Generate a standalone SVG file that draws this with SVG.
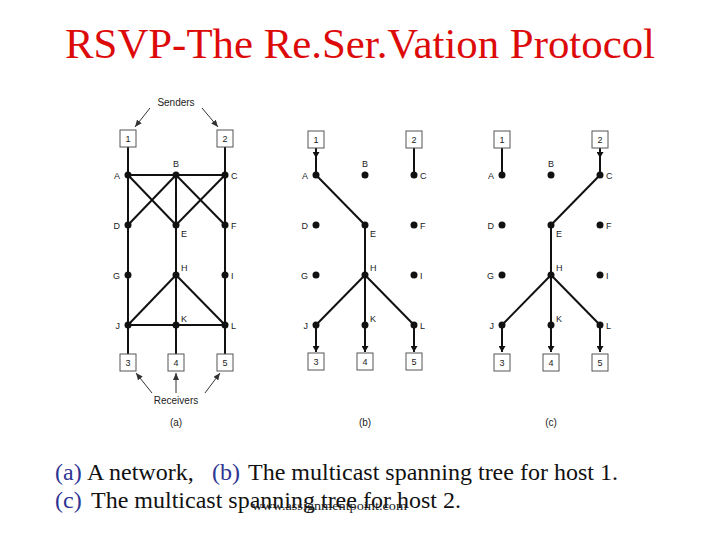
<svg xmlns="http://www.w3.org/2000/svg" width="720" height="540" viewBox="0 0 720 540">
<style>
.title{font-family:"Liberation Serif","Times New Roman",serif;font-size:43px;fill:#dd0a0a}
.cap{font-family:"Liberation Serif","Times New Roman",serif;font-size:24px;fill:#111}
.blue{fill:#2e3592}
.wm{font-family:"Liberation Serif","Times New Roman",serif;font-size:12px;fill:#222}
.lbl{font-family:"Liberation Sans",Arial,sans-serif;font-size:9px;fill:#222}
.big{font-family:"Liberation Sans",Arial,sans-serif;font-size:10px;fill:#222}
.box rect{fill:#fff;stroke:#555;stroke-width:1}
.box text{font-family:"Liberation Sans",Arial,sans-serif;font-size:9px;fill:#222;text-anchor:middle}
.dot{fill:#111}
.e line{stroke:#111;stroke-width:2}
.thin line{stroke:#333;stroke-width:1}
</style>
<defs>
<marker id="ah" markerUnits="userSpaceOnUse" markerWidth="6" markerHeight="7" refX="6" refY="3.5" orient="auto"><path d="M0,0 L6,3.5 L0,7 z" fill="#111"/></marker>
<marker id="at" markerUnits="userSpaceOnUse" markerWidth="7" markerHeight="6" refX="7" refY="3" orient="auto"><path d="M0,0 L7,3 L0,6 z" fill="#333"/></marker>
</defs>

<text class="title" x="65" y="58" textLength="590" lengthAdjust="spacingAndGlyphs">RSVP-The Re.Ser.Vation Protocol</text>

<!-- connectors -->
<g id="connectors">
<g class="e">
<!-- panel a -->
<line x1="128" y1="147" x2="128" y2="354"/>
<line x1="225" y1="147" x2="225" y2="354"/>
<line x1="176" y1="175" x2="176" y2="354"/>
<line x1="128" y1="175" x2="225" y2="175"/>
<line x1="128" y1="175" x2="176" y2="225"/>
<line x1="176" y1="175" x2="128" y2="225"/>
<line x1="176" y1="175" x2="225" y2="225"/>
<line x1="225" y1="175" x2="176" y2="225"/>
<line x1="176" y1="275" x2="128" y2="325"/>
<line x1="176" y1="275" x2="225" y2="325"/>
<line x1="128" y1="325" x2="225" y2="325"/>
<!-- panel b -->
<line x1="316" y1="148" x2="316" y2="158" marker-end="url(#ah)"/>
<line x1="316" y1="156" x2="316" y2="175"/>
<line x1="414" y1="148" x2="414" y2="175"/>
<line x1="316" y1="175" x2="365" y2="225"/>
<line x1="365" y1="225" x2="365" y2="275"/>
<line x1="365" y1="275" x2="316" y2="325"/>
<line x1="365" y1="275" x2="365" y2="325"/>
<line x1="365" y1="275" x2="414" y2="325"/>
<line x1="316" y1="325" x2="316" y2="352" marker-end="url(#ah)"/>
<line x1="365" y1="325" x2="365" y2="352" marker-end="url(#ah)"/>
<line x1="414" y1="325" x2="414" y2="352" marker-end="url(#ah)"/>
<!-- panel c -->
<line x1="502" y1="148" x2="502" y2="175"/>
<line x1="600" y1="148" x2="600" y2="158" marker-end="url(#ah)"/>
<line x1="600" y1="156" x2="600" y2="175"/>
<line x1="600" y1="175" x2="551" y2="225"/>
<line x1="551" y1="225" x2="551" y2="275"/>
<line x1="551" y1="275" x2="502" y2="325"/>
<line x1="551" y1="275" x2="551" y2="325"/>
<line x1="551" y1="275" x2="600" y2="325"/>
<line x1="502" y1="325" x2="502" y2="352" marker-end="url(#ah)"/>
<line x1="551" y1="325" x2="551" y2="352" marker-end="url(#ah)"/>
<line x1="600" y1="325" x2="600" y2="352" marker-end="url(#ah)"/>
</g>
<g class="thin">
<line x1="150" y1="108" x2="135" y2="127" marker-end="url(#at)"/>
<line x1="202" y1="108" x2="218" y2="127" marker-end="url(#at)"/>
<line x1="152" y1="393" x2="136" y2="373" marker-end="url(#at)"/>
<line x1="176" y1="393" x2="176" y2="373" marker-end="url(#at)"/>
<line x1="205" y1="393" x2="220" y2="373" marker-end="url(#at)"/>
</g>
</g>

<!-- panel labels -->
<text class="big" x="176" y="106" text-anchor="middle">Senders</text>
<text class="big" x="176" y="404" text-anchor="middle">Receivers</text>
<text class="big" x="176" y="426" text-anchor="middle">(a)</text>
<text class="big" x="365" y="426" text-anchor="middle">(b)</text>
<text class="big" x="551" y="426" text-anchor="middle">(c)</text>

<!-- panel a nodes -->
<g id="a-h1" class="box"><rect x="120" y="130" width="16" height="17"/><text x="128" y="141.5">1</text></g>
<g id="a-h2" class="box"><rect x="217" y="130" width="16" height="17"/><text x="225" y="141.5">2</text></g>
<g id="a-h3" class="box"><rect x="120" y="354" width="16" height="17"/><text x="128" y="365.5">3</text></g>
<g id="a-h4" class="box"><rect x="168" y="354" width="16" height="17"/><text x="176" y="365.5">4</text></g>
<g id="a-h5" class="box"><rect x="217" y="354" width="16" height="17"/><text x="225" y="365.5">5</text></g>
<g id="a-A"><circle class="dot" cx="128" cy="175" r="3.5"/><text class="lbl" x="120" y="178.5" text-anchor="end">A</text></g>
<g id="a-B"><circle class="dot" cx="176" cy="175" r="3.5"/><text class="lbl" x="176" y="167" text-anchor="middle">B</text></g>
<g id="a-C"><circle class="dot" cx="225" cy="175" r="3.5"/><text class="lbl" x="231" y="178.5">C</text></g>
<g id="a-D"><circle class="dot" cx="128" cy="225" r="3.5"/><text class="lbl" x="120" y="228.5" text-anchor="end">D</text></g>
<g id="a-E"><circle class="dot" cx="176" cy="225" r="3.5"/><text class="lbl" x="181" y="237">E</text></g>
<g id="a-F"><circle class="dot" cx="225" cy="225" r="3.5"/><text class="lbl" x="231" y="228.5">F</text></g>
<g id="a-G"><circle class="dot" cx="128" cy="275" r="3.5"/><text class="lbl" x="120" y="278.5" text-anchor="end">G</text></g>
<g id="a-H"><circle class="dot" cx="176" cy="275" r="3.5"/><text class="lbl" x="181" y="271">H</text></g>
<g id="a-I"><circle class="dot" cx="225" cy="275" r="3.5"/><text class="lbl" x="231" y="278.5">I</text></g>
<g id="a-J"><circle class="dot" cx="128" cy="325" r="3.5"/><text class="lbl" x="120" y="328.5" text-anchor="end">J</text></g>
<g id="a-K"><circle class="dot" cx="176" cy="325" r="3.5"/><text class="lbl" x="181" y="322">K</text></g>
<g id="a-L"><circle class="dot" cx="225" cy="325" r="3.5"/><text class="lbl" x="231" y="328.5">L</text></g>

<!-- panel b nodes -->
<g id="b-h1" class="box"><rect x="308" y="131" width="16" height="17"/><text x="316" y="142.5">1</text></g>
<g id="b-h2" class="box"><rect x="406" y="131" width="16" height="17"/><text x="414" y="142.5">2</text></g>
<g id="b-h3" class="box"><rect x="308" y="353" width="16" height="17"/><text x="316" y="364.5">3</text></g>
<g id="b-h4" class="box"><rect x="357" y="353" width="16" height="17"/><text x="365" y="364.5">4</text></g>
<g id="b-h5" class="box"><rect x="406" y="353" width="16" height="17"/><text x="414" y="364.5">5</text></g>
<g id="b-A"><circle class="dot" cx="316" cy="175" r="3.5"/><text class="lbl" x="308" y="178.5" text-anchor="end">A</text></g>
<g id="b-B"><circle class="dot" cx="365" cy="175" r="3.5"/><text class="lbl" x="365" y="167" text-anchor="middle">B</text></g>
<g id="b-C"><circle class="dot" cx="414" cy="175" r="3.5"/><text class="lbl" x="420" y="178.5">C</text></g>
<g id="b-D"><circle class="dot" cx="316" cy="225" r="3.5"/><text class="lbl" x="308" y="228.5" text-anchor="end">D</text></g>
<g id="b-E"><circle class="dot" cx="365" cy="225" r="3.5"/><text class="lbl" x="370" y="237">E</text></g>
<g id="b-F"><circle class="dot" cx="414" cy="225" r="3.5"/><text class="lbl" x="420" y="228.5">F</text></g>
<g id="b-G"><circle class="dot" cx="316" cy="275" r="3.5"/><text class="lbl" x="308" y="278.5" text-anchor="end">G</text></g>
<g id="b-H"><circle class="dot" cx="365" cy="275" r="3.5"/><text class="lbl" x="370" y="271">H</text></g>
<g id="b-I"><circle class="dot" cx="414" cy="275" r="3.5"/><text class="lbl" x="420" y="278.5">I</text></g>
<g id="b-J"><circle class="dot" cx="316" cy="325" r="3.5"/><text class="lbl" x="308" y="328.5" text-anchor="end">J</text></g>
<g id="b-K"><circle class="dot" cx="365" cy="325" r="3.5"/><text class="lbl" x="370" y="322">K</text></g>
<g id="b-L"><circle class="dot" cx="414" cy="325" r="3.5"/><text class="lbl" x="420" y="328.5">L</text></g>

<!-- panel c nodes -->
<g id="c-h1" class="box"><rect x="494" y="131" width="16" height="17"/><text x="502" y="142.5">1</text></g>
<g id="c-h2" class="box"><rect x="592" y="131" width="16" height="17"/><text x="600" y="142.5">2</text></g>
<g id="c-h3" class="box"><rect x="494" y="354" width="16" height="17"/><text x="502" y="365.5">3</text></g>
<g id="c-h4" class="box"><rect x="543" y="354" width="16" height="17"/><text x="551" y="365.5">4</text></g>
<g id="c-h5" class="box"><rect x="592" y="354" width="16" height="17"/><text x="600" y="365.5">5</text></g>
<g id="c-A"><circle class="dot" cx="502" cy="175" r="3.5"/><text class="lbl" x="494" y="178.5" text-anchor="end">A</text></g>
<g id="c-B"><circle class="dot" cx="551" cy="175" r="3.5"/><text class="lbl" x="551" y="167" text-anchor="middle">B</text></g>
<g id="c-C"><circle class="dot" cx="600" cy="175" r="3.5"/><text class="lbl" x="606" y="178.5">C</text></g>
<g id="c-D"><circle class="dot" cx="502" cy="225" r="3.5"/><text class="lbl" x="494" y="228.5" text-anchor="end">D</text></g>
<g id="c-E"><circle class="dot" cx="551" cy="225" r="3.5"/><text class="lbl" x="556" y="237">E</text></g>
<g id="c-F"><circle class="dot" cx="600" cy="225" r="3.5"/><text class="lbl" x="606" y="228.5">F</text></g>
<g id="c-G"><circle class="dot" cx="502" cy="275" r="3.5"/><text class="lbl" x="494" y="278.5" text-anchor="end">G</text></g>
<g id="c-H"><circle class="dot" cx="551" cy="275" r="3.5"/><text class="lbl" x="556" y="271">H</text></g>
<g id="c-I"><circle class="dot" cx="600" cy="275" r="3.5"/><text class="lbl" x="606" y="278.5">I</text></g>
<g id="c-J"><circle class="dot" cx="502" cy="325" r="3.5"/><text class="lbl" x="494" y="328.5" text-anchor="end">J</text></g>
<g id="c-K"><circle class="dot" cx="551" cy="325" r="3.5"/><text class="lbl" x="556" y="322">K</text></g>
<g id="c-L"><circle class="dot" cx="600" cy="325" r="3.5"/><text class="lbl" x="606" y="328.5">L</text></g>

<!-- caption -->
<text class="cap" y="480"><tspan class="blue" x="55">(a)</tspan><tspan x="87">A network,</tspan><tspan class="blue" x="212">(b)</tspan><tspan x="248">The multicast spanning tree for host 1.</tspan></text>
<text class="cap" y="508"><tspan class="blue" x="55">(c)</tspan><tspan x="91">The multicast spanning tree for host 2.</tspan></text>
<text class="wm" x="252" y="510" textLength="155" lengthAdjust="spacingAndGlyphs">www.assignmentpoint.com</text>
</svg>
